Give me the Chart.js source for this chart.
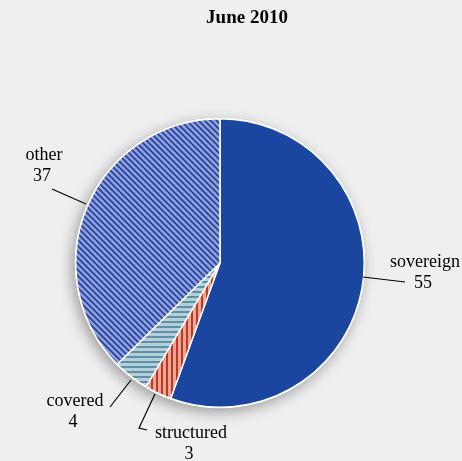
<!DOCTYPE html>
<html lang="en">
<head>
<meta charset="UTF-8">
<title>June 2010</title>
<script src="https://cdn.jsdelivr.net/npm/chart.js@4"></script>
<style>
  html, body { margin: 0; padding: 0; background: #efefef; }
  #wrap { width: 462px; height: 461px; }
</style>
</head>
<body>
<div id="wrap"><canvas id="myChart" width="462" height="461"></canvas></div>
<script>
  const categories = ['sovereign', 'structured', 'covered', 'other'];
  const shares = [55, 3, 4, 37];
  const chartTitle = 'June 2010';

  // stripe fills
  function stripes(bg, fg, kind) {
    const c = document.createElement('canvas');
    const s = kind === 'diag' ? 6 : 5;
    c.width = s; c.height = s;
    const g = c.getContext('2d');
    g.fillStyle = bg;
    g.fillRect(0, 0, s, s);
    g.strokeStyle = fg;
    g.lineWidth = kind === 'diag' ? 1.6 : 2;
    g.beginPath();
    if (kind === 'vert') {
      g.moveTo(2, 0); g.lineTo(2, s);
    } else if (kind === 'horiz') {
      g.moveTo(0, 2); g.lineTo(s, 2);
    } else {
      g.moveTo(0, 0); g.lineTo(s, s);
      g.moveTo(-s, 0); g.lineTo(s, 2 * s);
      g.moveTo(0, -s); g.lineTo(2 * s, s);
    }
    g.stroke();
    return g.createPattern(c, 'repeat');
  }

  const fills = [
    '#1a46a0',
    stripes('#e6a98f', '#c0342a', 'vert'),
    stripes('#b8cfda', '#5a93a8', 'horiz'),
    stripes('#919fd9', '#21419f', 'diag')
  ];

  // label positions and leader lines
  const labelText = [
    {x: 425, y: 262, n: 'sovereign'}, {x: 191, y: 433, n: 'structured'},
    {x: 75, y: 401, n: 'covered'}, {x: 44, y: 155, n: 'other'}
  ];
  const leaders = [
    [[363, 277], [405, 282]],
    [[155, 394], [139, 428], [147, 430]],
    [[131, 380], [110, 407]],
    [[86, 204], [52, 189]]
  ];

  const pieShadow = {
    id: 'pieShadow',
    beforeDatasetsDraw(chart) {
      const arc = chart.getDatasetMeta(0).data[0];
      const ctx = chart.ctx;
      ctx.save();
      ctx.shadowColor = 'rgba(0,0,0,0.35)';
      ctx.shadowBlur = 14;
      ctx.shadowOffsetX = -3;
      ctx.shadowOffsetY = 4;
      ctx.fillStyle = '#ffffff';
      ctx.beginPath();
      ctx.arc(arc.x, arc.y, arc.outerRadius + 1, 0, Math.PI * 2);
      ctx.fill();
      ctx.restore();
    }
  };

  const labels = {
    id: 'labels',
    afterDraw(chart) {
      const ctx = chart.ctx;
      ctx.save();
      ctx.fillStyle = '#000';
      ctx.textAlign = 'center';
      ctx.textBaseline = 'middle';
      ctx.font = 'bold 19px "Liberation Serif", serif';
      ctx.fillText(chartTitle, 247, 18);
      ctx.font = '18px "Liberation Serif", serif';
      labelText.forEach((t, i) => {
        ctx.fillText(t.n, t.x, t.y);
        ctx.fillText(String(shares[i]), t.x - 2, t.y + 21);
      });
      ctx.strokeStyle = '#000';
      ctx.lineWidth = 1.2;
      leaders.forEach(pts => {
        ctx.beginPath();
        pts.forEach((p, k) => k ? ctx.lineTo(p[0], p[1]) : ctx.moveTo(p[0], p[1]));
        ctx.stroke();
      });
      ctx.restore();
    }
  };

  new Chart(document.getElementById('myChart'), {
    type: 'pie',
    data: {
      labels: categories,
      datasets: [{
        data: shares,
        backgroundColor: fills,
        borderColor: '#ffffff',
        borderWidth: 1.5
      }]
    },
    options: {
      responsive: false,
      animation: false,
      layout: { padding: { left: 75, right: 97, top: 118, bottom: 53 } },
      plugins: {
        legend: { display: false },
        tooltip: { enabled: false },
        title: { display: false }
      }
    },
    plugins: [pieShadow, labels]
  });
</script>
</body>
</html>
